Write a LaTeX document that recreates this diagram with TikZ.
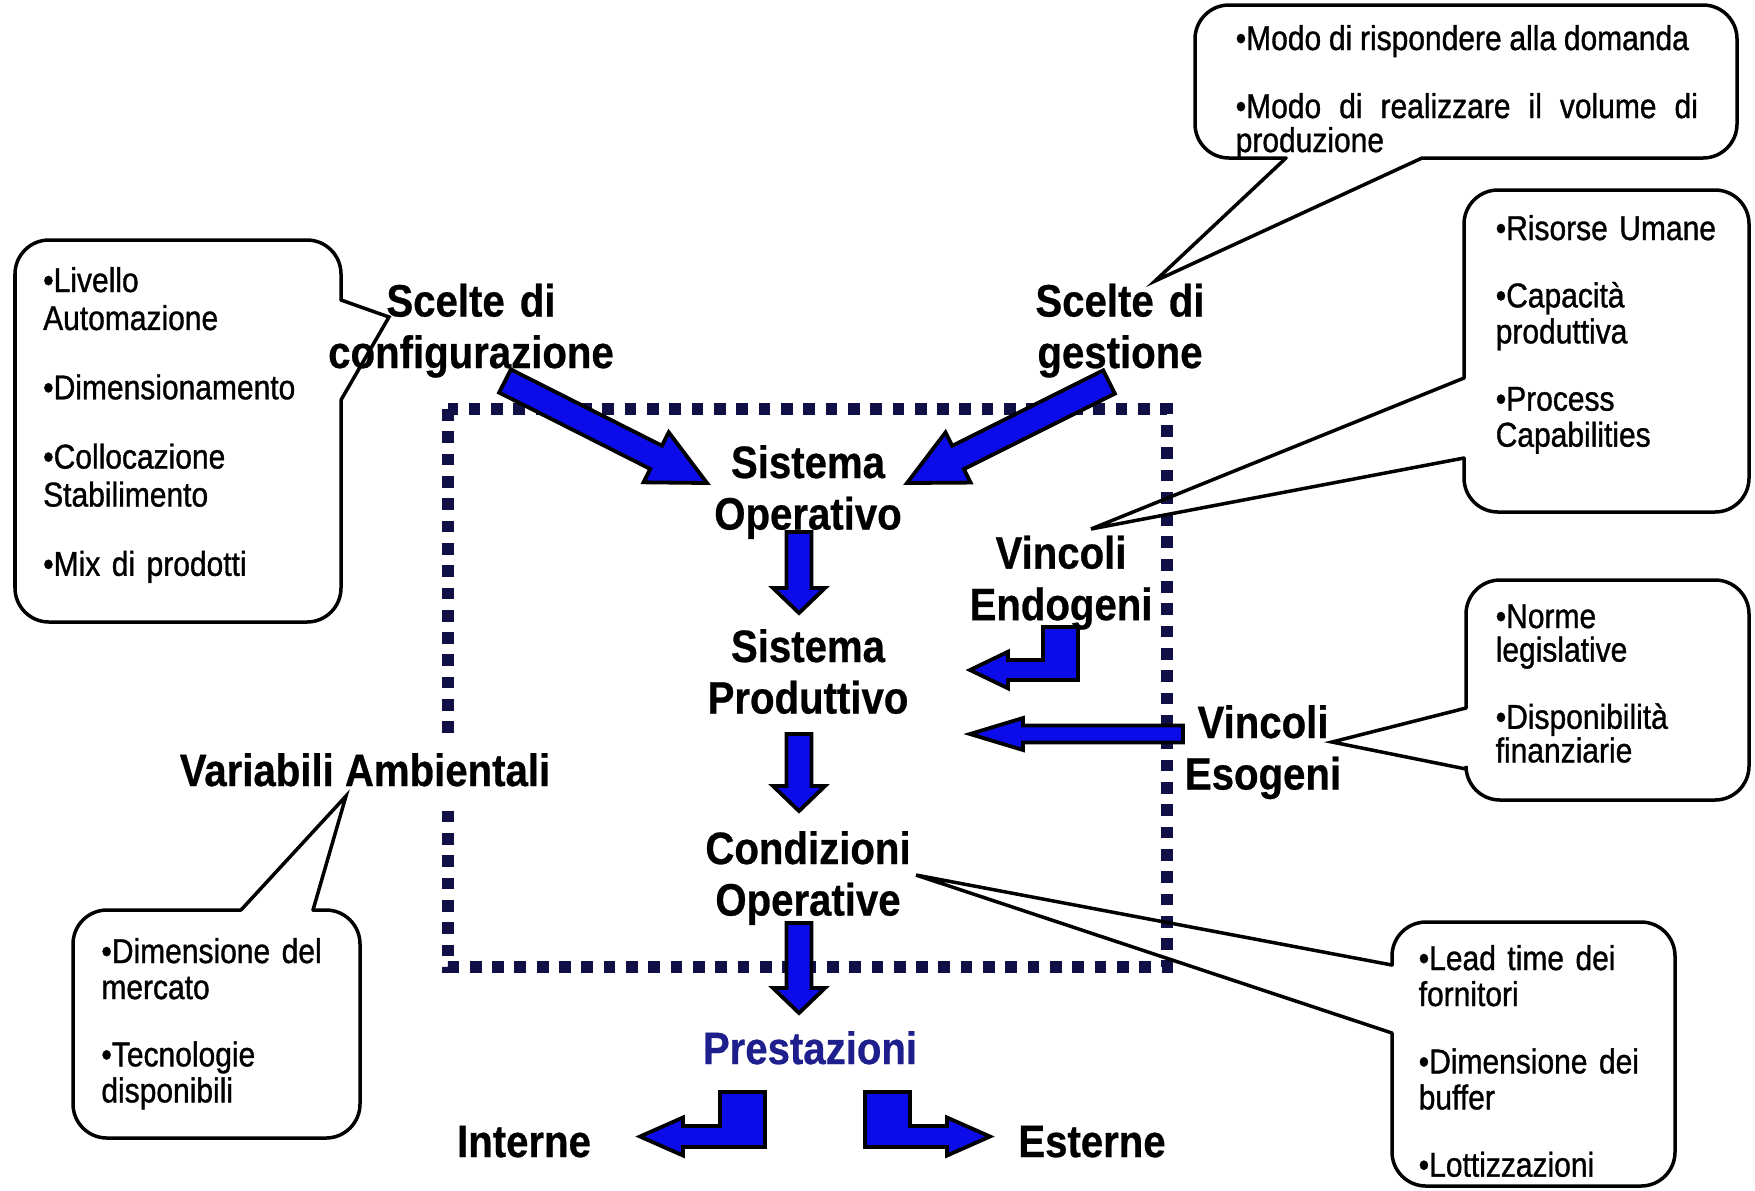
\documentclass[tikz,border=0pt]{standalone}
\usepackage{fontspec}
\setmainfont{Liberation Sans}
\newfontfamily\headfont{Liberation Sans}[FakeStretch=0.885, FakeBold=0.6]
\newfontfamily\bodyfont{Liberation Sans}[FakeStretch=0.87, FakeBold=1]
\usetikzlibrary{calc}

\definecolor{arrowblue}{RGB}{12,12,235}
\definecolor{framenavy}{RGB}{16,16,70}
\definecolor{prestblue}{RGB}{30,30,140}

% straight block arrow: tail, tip, shaft half-width, head half-width, head length
\newcommand\blockarrow[5]{%
  \coordinate (ba-base) at ($(#2)!#5!(#1)$);
  \filldraw[blockarrow] ($(#1)!#3!90:(#2)$) -- ($(ba-base)!#3!90:(#2)$)
    -- ($(ba-base)!#4!90:(#2)$) -- (#2) -- ($(ba-base)!#4!-90:(#2)$)
    -- ($(ba-base)!#3!-90:(#2)$) -- ($(#1)!#3!-90:(#2)$) -- cycle;}
\newcommand\pgap{\\[8.9pt]}
% a line set to a fixed width by stretching its word spaces
\newcommand\fullline[2]{\makebox[#1][s]{\spaceskip=0.15em plus 1fil\relax #2}}

\begin{document}
\begin{tikzpicture}[x=0.01cm, y=-0.01cm,
  headfont/.style={font={\headfont\bfseries\fontsize{12.9pt}{14.65pt}\selectfont}},
  heading/.style={headfont, text width=6cm, align=center, inner sep=0pt, anchor=base},
  bodytext/.style={font={\bodyfont\fontsize{9.8pt}{10.24pt}\selectfont}, text width=2.8cm, align=left, inner sep=0pt, anchor=base west},
  bubble/.style={draw=black, line width=0.035cm, line join=miter, line cap=round},
  blockarrow/.style={fill=arrowblue, draw=black, line width=0.038cm, line join=miter},
  sysframe/.style={draw=framenavy, line width=0.117cm, dash pattern=on 0.117cm off 0.106cm},
]
\useasboundingbox (0,0) rectangle (1755,1190);
\fill[white] (0,0) rectangle (1755,1190);

% boundary of the operating system
\draw[sysframe] (447.7,409) rectangle (1166.7,967);
\node[headfont, fill=white, inner xsep=3pt, inner ysep=0.2cm, anchor=base] (varamb) at (365,786) {Variabili Ambientali};

% choices feeding the operating system
\coordinate (cfg-tail) at (505,381);  \coordinate (cfg-tip) at (707,483);
\blockarrow{cfg-tail}{cfg-tip}{0.13cm}{0.28cm}{0.57cm}
\coordinate (ges-tail) at (1109,382); \coordinate (ges-tip) at (907,483);
\blockarrow{ges-tail}{ges-tip}{0.13cm}{0.28cm}{0.57cm}

% main vertical chain
\coordinate (d1-top) at (799,532);  \coordinate (d1-tip) at (799,613);
\blockarrow{d1-top}{d1-tip}{0.125cm}{0.26cm}{0.25cm}
\coordinate (d2-top) at (799,734);  \coordinate (d2-tip) at (799,811);
\blockarrow{d2-top}{d2-tip}{0.125cm}{0.26cm}{0.25cm}
\coordinate (d3-top) at (799,923);  \coordinate (d3-tip) at (799,1013);
\blockarrow{d3-top}{d3-tip}{0.125cm}{0.26cm}{0.25cm}

% external constraints
\coordinate (eso-tail) at (1183,734); \coordinate (eso-tip) at (970,734);
\blockarrow{eso-tail}{eso-tip}{0.085cm}{0.16cm}{0.53cm}

% bent arrows
\filldraw[blockarrow] (1043,627) -- (1078,627) -- (1078,680) -- (1008,680) -- (1008,688.3)
  -- (970,670) -- (1008,651.7) -- (1008,660) -- (1043,660) -- cycle;
\filldraw[blockarrow] (720,1092) -- (765,1092) -- (765,1147) -- (683,1147) -- (683,1155.5)
  -- (640,1136.5) -- (683,1117.5) -- (683,1126) -- (720,1126) -- cycle;
\filldraw[blockarrow] (910,1092) -- (865,1092) -- (865,1147) -- (947,1147) -- (947,1155.5)
  -- (990,1136.5) -- (947,1117.5) -- (947,1126) -- (910,1126) -- cycle;

% headings
\node[heading] (cfg) at (471,316.5) {Scelte di\\configurazione};
\node[heading] (ges) at (1120,316.5) {Scelte di\\gestione};
\node[heading] (sysop) at (808,478) {Sistema\\Operativo};
\node[heading] (sysprod) at (808,662) {Sistema\\Produttivo};
\node[heading] (condop) at (808,864) {Condizioni\\Operative};
\node[heading, text=prestblue] (prest) at (810,1064) {Prestazioni};
\node[heading] (intern) at (524,1157) {Interne};
\node[heading] (extern) at (1092,1157) {Esterne};
\node[heading] (vendo) at (1061,568.6) {Vincoli\\Endogeni};
\node[heading] (vesog) at (1263,738) {Vincoli\\Esogeni};

% callout: configuration choices
\draw[bubble, rounded corners=0.34cm] (341,300) -- (341,240) -- (15,240) -- (15,622) -- (341,622) -- (341,400);
\draw[bubble] (341,300) -- (389,317) -- (341,400);
\node[bodytext, font={\bodyfont\fontsize{9.8pt}{10.8pt}\selectfont}] (txt-cfg) at (42.5,292)
  {•Livello\\Automazione\pgap•Dimensionamento\pgap•Collocazione\\Stabilimento\pgap•Mix di prodotti};

% callout: management choices
\draw[bubble, rounded corners=0.34cm] (1422,158) -- (1737,158) -- (1737,5) -- (1195,5) -- (1195,158) -- (1286,158);
\draw[bubble] (1286,158) -- (1155,281) -- (1422,158);
\node[bodytext, text width=4.62cm, font={\bodyfont\fontsize{9.8pt}{9.67pt}\selectfont}] (txt-ges) at (1235,50)
  {\fullline{4.53cm}{•Modo di rispondere alla domanda}\\[9.67pt]\fullline{4.62cm}{•Modo di realizzare il volume di}\\produzione};

% callout: endogenous constraints
\draw[bubble, rounded corners=0.34cm] (1464,378) -- (1464,190) -- (1749,190) -- (1749,512) -- (1464,512) -- (1464,458);
\draw[bubble] (1464,378) -- (1091,529) -- (1464,458);
\node[bodytext] (txt-endo) at (1495,240)
  {•Risorse Umane\pgap•Capacità\\produttiva\pgap•Process\\Capabilities};

% callout: exogenous constraints
\draw[bubble, rounded corners=0.34cm] (1466,708) -- (1466,580) -- (1749,580) -- (1749,800) -- (1466,800) -- (1466,769);
\draw[bubble] (1466,708) -- (1332,742) -- (1466,769);
\node[bodytext, font={\bodyfont\fontsize{9.8pt}{9.55pt}\selectfont}] (txt-eso) at (1495,628)
  {•Norme\\legislative\\[9.55pt]•Disponibilità\\finanziarie};

% callout: operating conditions
\draw[bubble, rounded corners=0.34cm] (1392,965) -- (1392,922) -- (1675,922) -- (1675,1186) -- (1392,1186) -- (1392,1033);
\draw[bubble] (1392,965) -- (916,875) -- (1392,1033);
\node[bodytext] (txt-cond) at (1418,970)
  {•Lead time dei\\fornitori\pgap•Dimensione dei\\buffer\pgap•Lottizzazioni};

% callout: environmental variables
\draw[bubble, rounded corners=0.34cm] (313,910) -- (360,910) -- (360,1138) -- (73,1138) -- (73,910) -- (241,910);
\draw[bubble] (241,910) -- (346,796) -- (313,910);
\node[bodytext] (txt-amb) at (100.7,963)
  {•Dimensione del\\mercato\pgap•Tecnologie\\disponibili};
\end{tikzpicture}
\end{document}
